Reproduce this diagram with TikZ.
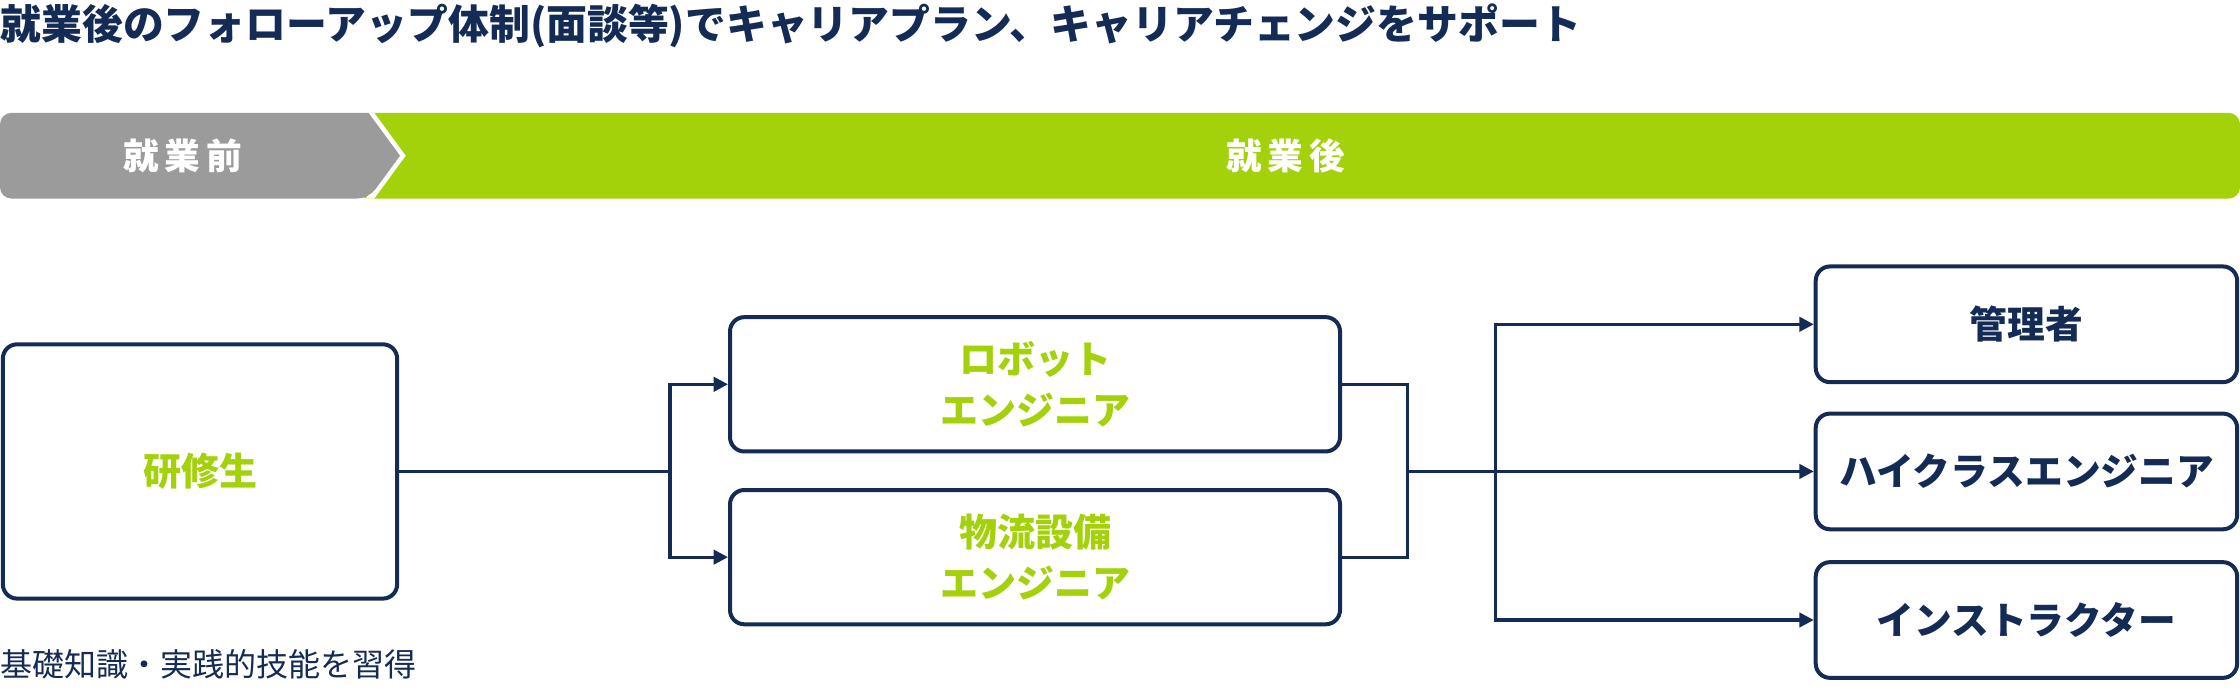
\documentclass[tikz,border=0pt]{standalone}
\usepackage{fontspec}
\setmainfont{Noto Sans CJK JP}
\usetikzlibrary{arrows.meta}
\definecolor{navy}{HTML}{132B55}
\definecolor{lgreen}{HTML}{A3D10A}
\definecolor{bgray}{HTML}{9B9B9B}
\begin{document}
\begin{tikzpicture}[x=0.5pt,y=-0.5pt,
 box/.style={draw=navy,line width=1.4pt,rounded corners=5pt,fill=white},
 gtxt/.style={text=lgreen,font=\bfseries\fontsize{13.3}{17}\selectfont,align=center},
 ntxt/.style={text=navy,font=\bfseries\fontsize{13.2}{15}\selectfont,align=center},
 conn/.style={draw=navy,line width=1.1pt},
 arr/.style={conn,-{Triangle[length=5pt,width=5pt]}}]
\useasboundingbox (0,0) rectangle (1568,484);
\node[anchor=west,text=navy,font=\bfseries\fontsize{14.3}{16}\selectfont,inner sep=0] (title) at (0,18) {就業後のフォローアップ体制(面談等)でキャリアプラン、キャリアチェンジをサポート};
% bar
\fill[lgreen,rounded corners=4pt] (250,79) -- (1568,79) -- (1568,139) -- (250,139) -- cycle;
\fill[white] (256,79) -- (278,109) -- (256,139) -- (262,139) -- (284,109) -- (262,79) -- cycle;
\fill[bgray,rounded corners=4pt] (258,79) -- (0,79) -- (0,139) -- (258,139) [sharp corners]-- (280,109) -- cycle;
\node[text=white,font=\bfseries\fontsize{12.5}{14}\selectfont] (pre) at (128,109) {就\,業\,前};
\node[text=white,font=\bfseries\fontsize{12.5}{14}\selectfont] (post) at (900,109) {就\,業\,後};
% boxes
\node[box,minimum width=276pt*0.5,minimum height=178pt*0.5,gtxt] (kenshu) at (140,330) {研修生};
\node[anchor=west,text=navy,font=\fontsize{11.2}{13}\selectfont,inner sep=0] (lbl) at (0,465) {基礎知識・実践的技能を習得};
\node[box,minimum width=427pt*0.5,minimum height=94pt*0.5,gtxt] (robot) at (724.5,269) {ロボット\\[1pt]エンジニア};
\node[box,minimum width=427pt*0.5,minimum height=94pt*0.5,gtxt] (butsu) at (724.5,390) {物流設備\\[1pt]エンジニア};
\node[box,minimum width=295pt*0.5,minimum height=81pt*0.5,ntxt] (kanri) at (1418.5,227) {管理者};
\node[box,minimum width=295pt*0.5,minimum height=81pt*0.5,ntxt] (high) at (1418.5,330) {ハイクラスエンジニア};
\node[box,minimum width=295pt*0.5,minimum height=81pt*0.5,ntxt] (inst) at (1418.5,434) {インストラクター};
% connectors
\coordinate (s1) at (469,330);
\coordinate (m1) at (985,330);
\coordinate (s2) at (1047,330);
\draw[conn] (kenshu.east) -- (s1);
\draw[arr] (s1) |- (robot.west);
\draw[arr] (s1) |- (butsu.west);
\draw[conn] (robot.east) -| (m1);
\draw[conn] (butsu.east) -| (m1);
\draw[arr] (m1) -- (high.west);
\draw[arr] (s2) |- (kanri.west);
\draw[arr] (s2) |- (inst.west);
\end{tikzpicture}
\end{document}
